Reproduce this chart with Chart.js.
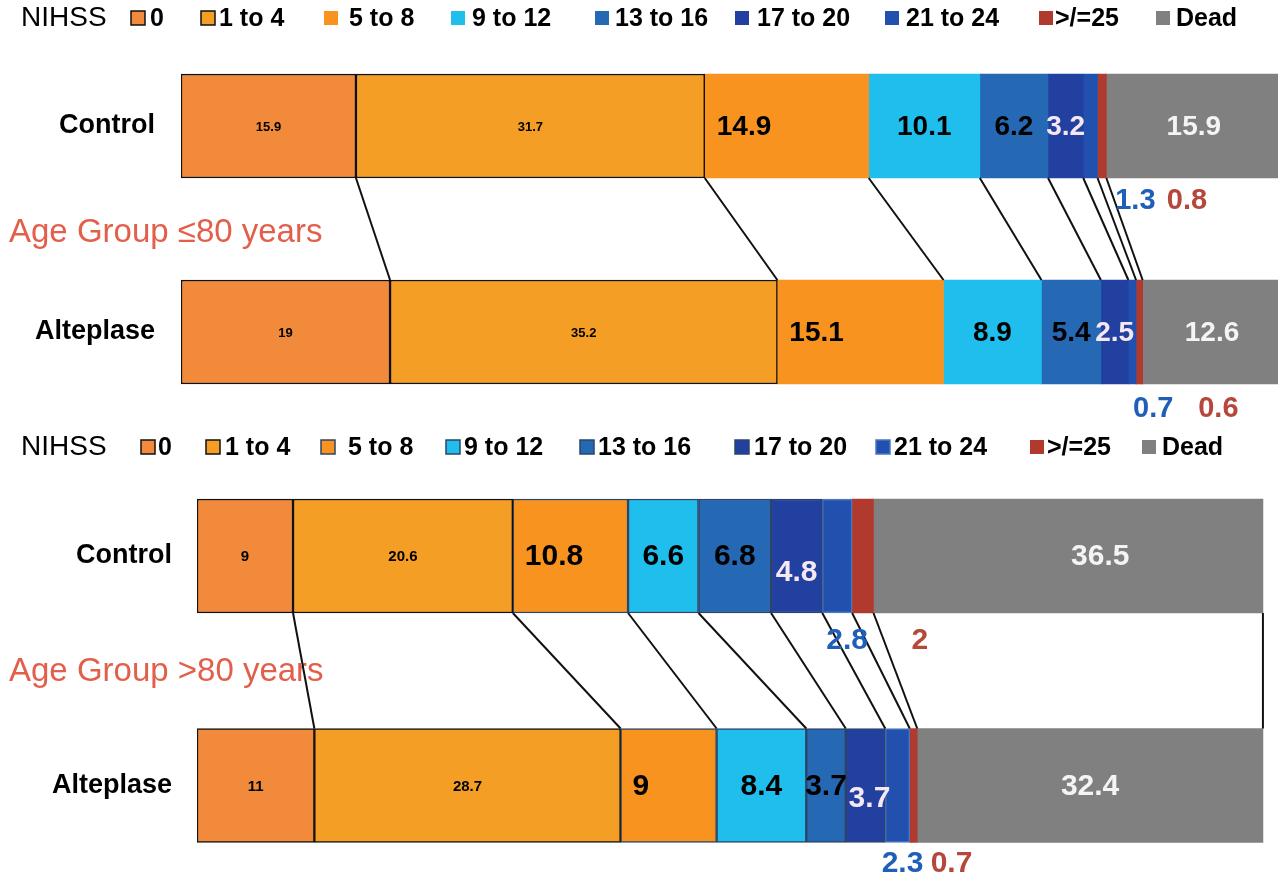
<!DOCTYPE html>
<html>
<head>
<meta charset="utf-8">
<script src="https://cdn.jsdelivr.net/npm/chart.js@4.4.1/dist/chart.umd.min.js"></script>
<style>
  html, body { margin: 0; padding: 0; background: #fff; overflow: hidden; width: 1278px; height: 883px; }
  .panel { position: absolute; left: 0; width: 1278px; }
  #young { top: 0; height: 460px; }
  #old { top: 380px; height: 550px; }
</style>
</head>
<body>
<div class="panel" id="young"><canvas id="young-chart"></canvas></div>
<div class="panel" id="old"><canvas id="old-chart"></canvas></div>
<script>
const groups = ["Control", "Alteplase"];
const nihssBands = ["0", "1 to 4", "5 to 8", "9 to 12", "13 to 16", "17 to 20", "21 to 24", ">/=25", "Dead"];

const youngControl = [15.9, 31.7, 14.9, 10.1, 6.2, 3.2, 1.3, 0.8, 15.9];
const youngAlteplase = [19, 35.2, 15.1, 8.9, 5.4, 2.5, 0.7, 0.6, 12.6];
const oldControl = [9, 20.6, 10.8, 6.6, 6.8, 4.8, 2.8, 2, 36.5];
const oldAlteplase = [11, 28.7, 9, 8.4, 3.7, 3.7, 2.3, 0.7, 32.4];

const bandColors = ["#F28A3C", "#F59E25", "#F7931E", "#1FBEEC", "#2568B4", "#2140A0", "#2150AE", "#B03A2E", "#808080"];
const FONT = "'Liberation Sans', Arial, sans-serif";

// label colours inside bars / below bars
const inkColors = ["#000", "#000", "#000", "#000", "#000", "#F6E8F2", "#1F5FB8", "#B5483A", "#F4F4F4"];

const youngStyle = {
  canvasTop: 0, axisWidth: 181, max: 99.7, thickness: 104, gap: 26,
  padding: { top: 23, bottom: 25, left: 0, right: 0 },
  borders: ["#111", "#111", null, null, null, null, null, null, null],
  smallFont: "bold 13px " + FONT, bigFont: "bold 28px " + FONT, belowFont: "bold 29px " + FONT,
  legendY: 18, legendBoxes: [131, 201, 324, 451, 595, 735, 885, 1039, 1156],
  legendGaps: [19, 18, 25, 21, 20, 22, 21, 16, 20],
  ageText: "Age Group \u226480 years", ageY: 233,
  nudge: { "0:6": [45, 74], "0:7": [85, 74], "1:6": [21, 76], "1:7": [79, 76] }
};

const oldStyle = {
  canvasTop: 380, axisWidth: 197, max: 100, thickness: 114, gap: 25,
  padding: { top: 61.25, bottom: 29.75, left: 0, right: 14 },
  borders: ["#111", "#111", "#2c4468", "#2c4468", "#2c4468", "#2c4468", "#4a78c0", null, null],
  smallFont: "bold 15px " + FONT, bigFont: "bold 30px " + FONT, belowFont: "bold 30px " + FONT,
  legendY: 447, legendBoxes: [141, 206, 321, 446, 580, 735, 876, 1030, 1142],
  legendGaps: [17, 19, 27, 18, 18, 19, 18, 17, 20],
  ageText: "Age Group >80 years", ageY: 672,
  nudge: { "0:6": [10, 84], "0:7": [57, 84], "1:6": [5, 77], "1:7": [38, 77],
           "0:5": [0, 16], "0:8": [32, 0], "1:5": [4, 12] }
};

const decorPlugin = (style, rows) => ({
  id: "decor",
  afterDatasetsDraw(chart) {
    const ctx = chart.ctx;
    const xs = chart.scales.x;
    const off = style.canvasTop;
    ctx.save();

    // legend
    ctx.textBaseline = "middle";
    ctx.textAlign = "left";
    ctx.fillStyle = "#000";
    ctx.font = "28px " + FONT;
    ctx.fillText("NIHSS", 21, style.legendY - off);
    ctx.font = "bold 25px " + FONT;
    nihssBands.forEach((band, i) => {
      const bx = style.legendBoxes[i];
      const by = style.legendY - off - 7;
      ctx.fillStyle = bandColors[i];
      ctx.fillRect(bx, by, 14, 14);
      if (style.borders[i]) {
        ctx.strokeStyle = style.borders[i];
        ctx.lineWidth = 1.5;
        ctx.strokeRect(bx, by, 14, 14);
      }
      ctx.fillStyle = "#000";
      ctx.fillText(band, bx + style.legendGaps[i], style.legendY - off + 1);
    });

    // age group title
    ctx.font = "33px " + FONT;
    ctx.fillStyle = "#E2604B";
    ctx.fillText(style.ageText, 9, style.ageY - off);

    // connectors between cumulative boundaries
    const upper = chart.getDatasetMeta(0).data[0];
    const lower = chart.getDatasetMeta(0).data[1];
    const y0 = upper.y + upper.height / 2;
    const y1 = lower.y - lower.height / 2;
    let c0 = 0, c1 = 0;
    ctx.strokeStyle = "#111";
    ctx.lineWidth = 2;
    for (let i = 0; i < nihssBands.length; i++) {
      c0 += rows[0][i];
      c1 += rows[1][i];
      ctx.beginPath();
      ctx.moveTo(xs.getPixelForValue(c0), y0);
      ctx.lineTo(xs.getPixelForValue(c1), y1);
      ctx.stroke();
    }

    // value labels
    for (let d = 0; d < nihssBands.length; d++) {
      const meta = chart.getDatasetMeta(d);
      meta.data.forEach((el, b) => {
        const value = rows[b][d];
        const n = style.nudge[b + ":" + d] || [0, 0];
        let cx = (el.x + el.base) / 2 + n[0];
        const cy = el.y + n[1];
        ctx.textAlign = "center";
        if (d < 2) {
          ctx.font = style.smallFont;
        } else if (d === 6 || d === 7) {
          ctx.font = style.belowFont;
        } else {
          ctx.font = style.bigFont;
        }
        if (d === 2) {
          ctx.textAlign = "left";
          cx = el.base + 12;
        }
        ctx.fillStyle = inkColors[d];
        ctx.fillText(String(value), cx, cy + 1);
      });
    }
    ctx.restore();
  }
});

const drawPanel = (canvasId, style, control, alteplase) => {
  const rows = [control, alteplase];
  const datasets = nihssBands.map((band, i) => ({
    label: band,
    data: [control[i], alteplase[i]],
    backgroundColor: bandColors[i],
    borderColor: style.borders[i] || bandColors[i],
    borderWidth: style.borders[i] ? 1.5 : 0,
    borderSkipped: false,
    barThickness: style.thickness,
  }));

  new Chart(document.getElementById(canvasId), {
    type: "bar",
    data: { labels: groups, datasets },
    options: {
      indexAxis: "y",
      responsive: true,
      maintainAspectRatio: false,
      animation: false,
      layout: { padding: style.padding },
      plugins: { legend: { display: false }, tooltip: { enabled: false } },
      scales: {
        x: { stacked: true, display: false, min: 0, max: style.max },
        y: {
          stacked: true,
          grid: { display: false, drawTicks: true, tickLength: style.gap },
          border: { display: false },
          ticks: { color: "#000", padding: 0, font: { family: FONT, size: 27, weight: "bold" } },
          afterFit(scale) { scale.width = style.axisWidth; },
        },
      },
    },
    plugins: [decorPlugin(style, rows)],
  });
};

drawPanel("young-chart", youngStyle, youngControl, youngAlteplase);
drawPanel("old-chart", oldStyle, oldControl, oldAlteplase);
</script>
</body>
</html>
